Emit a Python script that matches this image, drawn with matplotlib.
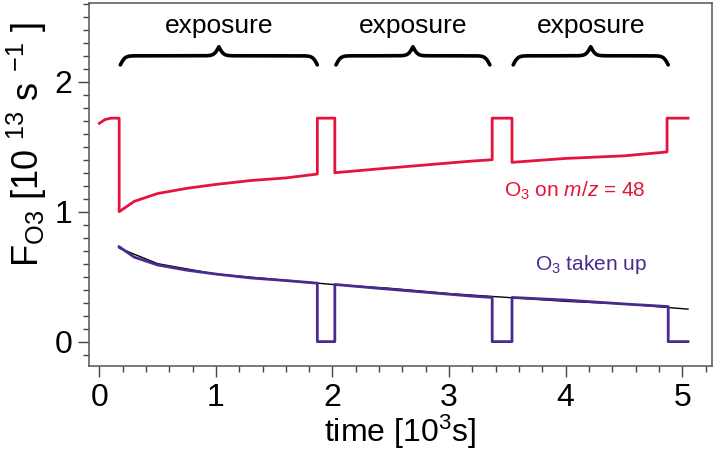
import numpy as np
import matplotlib
matplotlib.use("Agg")
import matplotlib.pyplot as plt
from matplotlib.ticker import MultipleLocator

plt.rcParams['font.family'] = ['Liberation Sans', 'DejaVu Sans']
plt.rcParams['mathtext.fontset'] = 'custom'
plt.rcParams['mathtext.rm'] = 'Liberation Sans'
plt.rcParams['mathtext.it'] = 'Liberation Sans:italic'

# ---- data (time in 10^3 s, flux in 10^13 s^-1) ----
red_t = [0.00, 0.05, 0.10, 0.17, 0.17, 0.30, 0.50, 0.75, 1.00, 1.30, 1.60, 1.87,
         1.87, 2.02, 2.02, 2.40, 2.80, 3.20, 3.37, 3.37, 3.54, 3.54, 4.00, 4.50,
         4.87, 4.87, 5.05]
red_v = [1.68, 1.71, 1.72, 1.72, 1.00, 1.08, 1.14, 1.18, 1.21, 1.24, 1.26, 1.29,
         1.72, 1.72, 1.30, 1.33, 1.36, 1.39, 1.40, 1.72, 1.72, 1.38, 1.41, 1.43,
         1.46, 1.72, 1.72]

pur_t = [0.17, 0.30, 0.50, 0.75, 1.00, 1.30, 1.60, 1.87, 1.87, 2.02, 2.02, 2.40,
         2.80, 3.20, 3.37, 3.37, 3.54, 3.54, 4.00, 4.50, 4.88, 4.88, 5.05]
pur_v = [0.73, 0.65, 0.59, 0.55, 0.52, 0.49, 0.47, 0.45, 0.00, 0.00, 0.44, 0.41,
         0.38, 0.35, 0.34, 0.00, 0.00, 0.34, 0.32, 0.29, 0.27, 0.00, 0.00]

fit_t = [0.17, 0.50, 1.00, 1.50, 2.00, 2.50, 3.00, 3.50, 4.00, 4.50, 5.05]
fit_v = [0.72, 0.60, 0.52, 0.48, 0.44, 0.41, 0.37, 0.34, 0.31, 0.29, 0.25]

# exposure windows (start, end)
exposures = [(0.18, 1.87), (2.03, 3.35), (3.55, 4.88)]

red = '#e5143c'
purple = '#4a2a8f'


def draw_brace(ax, x0, x1, ybase, h, beta=50.0):
    # curly brace made of two sigmoid steps per half
    x = np.linspace(x0, x1, 801)
    xh = x[:401]
    s = 1 / (1 + np.exp(-beta * (xh - xh[0]))) + 1 / (1 + np.exp(-beta * (xh - xh[-1])))
    y = np.concatenate((s, s[-2::-1]))
    ax.plot(x, ybase + h * (y - 0.5), color='black', lw=2.6, solid_capstyle='round')


fig = plt.figure(figsize=(7.19, 4.54), dpi=100)
ax = fig.add_axes([0.124, 0.194, 0.866, 0.799])

ax.plot(fit_t, fit_v, color='black', lw=1.0, zorder=2)
ax.plot(red_t, red_v, color=red, lw=2.0, zorder=3)
ax.plot(pur_t, pur_v, color=purple, lw=2.0, zorder=3)

for (a, b) in exposures:
    draw_brace(ax, a, b, 2.13, 0.14)
    ax.text((a + b) / 2, 2.43, 'exposure', ha='center', va='center', fontsize=19)

ax.text(4.08, 1.16, r'O$_{\mathregular{3}}$ on $m/z$ = 48', color=red, fontsize=15,
        ha='center', va='center')
ax.text(4.22, 0.59, r'O$_{\mathregular{3}}$ taken up', color=purple, fontsize=15,
        ha='center', va='center')

ax.set_xlim(-0.0875, 5.254)
ax.set_ylim(-0.187, 2.605)
ax.xaxis.set_major_locator(MultipleLocator(1))
ax.xaxis.set_minor_locator(MultipleLocator(0.2))
ax.yaxis.set_major_locator(MultipleLocator(1))
ax.yaxis.set_minor_locator(MultipleLocator(0.1))
ax.tick_params(which='major', direction='out', length=8, width=1, labelsize=23, pad=4,
               color='#444444')
ax.tick_params(which='minor', direction='out', length=4, width=1, color='#444444')
for sp in ax.spines.values():
    sp.set_color('#555555')
    sp.set_linewidth(1.1)

ax.set_xlabel(r'time [10$^{\mathregular{3}}$s]', fontsize=23, labelpad=0)
ax.set_ylabel(r'F$_{\mathregular{O3}}$ [10 $^{\mathregular{13}}$ s $^{\mathregular{-1}}$ ]',
              fontsize=26)
ax.yaxis.set_label_coords(-0.064, 0.61)

fig.savefig('out.png', dpi=100)
